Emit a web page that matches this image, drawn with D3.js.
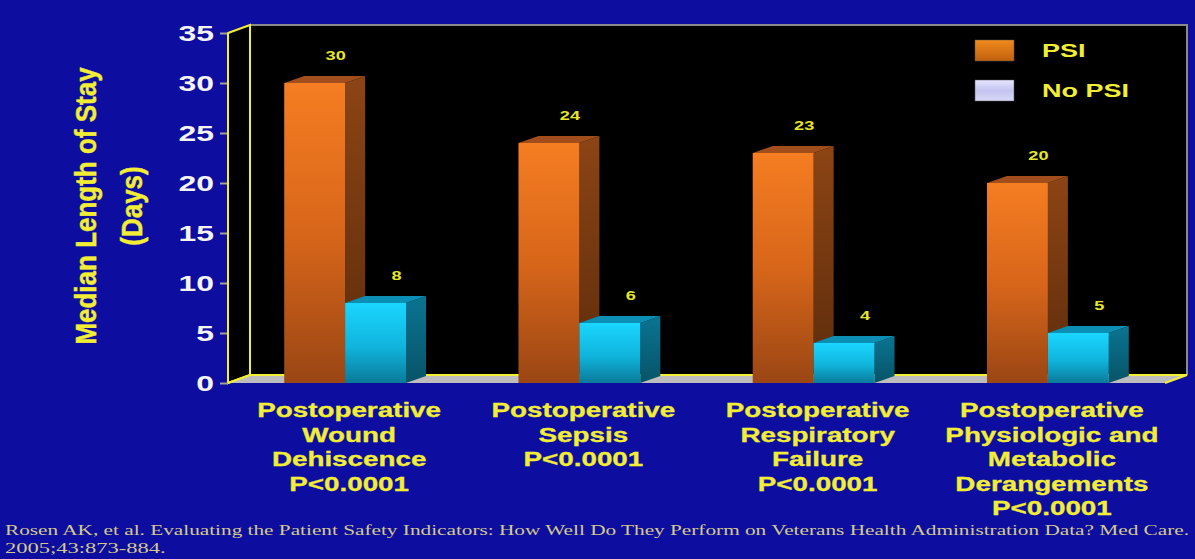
<!DOCTYPE html>
<html>
<head>
<meta charset="utf-8">
<script src="https://cdn.jsdelivr.net/npm/d3@7"></script>
<style>
  html, body { margin: 0; padding: 0; background: #0d0da0; }
  svg { display: block; }
</style>
</head>
<body>
<svg id="chart" width="1195" height="559"></svg>
<script>
// ---- data ----
const categoryKeys = ["wound", "sepsis", "respiratory", "metabolic"];
const categoryLines = [
  ["Postoperative", "Wound", "Dehiscence", "P<0.0001"],
  ["Postoperative", "Sepsis", "P<0.0001"],
  ["Postoperative", "Respiratory", "Failure", "P<0.0001"],
  ["Postoperative", "Physiologic and", "Metabolic", "Derangements", "P<0.0001"]
];
const seriesNames = ["PSI", "No PSI"];
const psiValues = [30, 24, 23, 20];
const noPsiValues = [8, 6, 4, 5];
const yTicks = [0, 5, 10, 15, 20, 25, 30, 35];
const yTitleLines = ["Median Length of Stay", "(Days)"];
const citationLines = [
  "Rosen AK, et al. Evaluating the Patient Safety Indicators: How Well Do They Perform on Veterans Health Administration Data? Med Care.",
  "2005;43:873-884."
];

// ---- layout ----
const svg = d3.select("#chart");
const W = 1195, H = 559;
const floorY = 383, topY = 33;
const plotLeft = 228, plotRight = 1165;
const wallDX = 22, wallDY = -8;     // depth of the walls
const barDX = 20, barDY = -7;       // depth of each bar
const yellow = "#f2ee34";
const sans = "'Liberation Sans', Arial, sans-serif";

const y = d3.scaleLinear().domain([0, 35]).range([floorY, topY]);
const x = d3.scaleBand().domain(categoryKeys).range([plotLeft, plotRight])
  .paddingInner(0.48).paddingOuter(0.24);
const xs = d3.scaleBand().domain(seriesNames).range([0, x.bandwidth()]);

const defs = svg.append("defs");
function vGrad(id, stops) {
  const g = defs.append("linearGradient").attr("id", id)
    .attr("x1", 0).attr("y1", 0).attr("x2", 0).attr("y2", 1);
  stops.forEach(([o, c]) => g.append("stop").attr("offset", o).attr("stop-color", c));
}
vGrad("psiFront", [[0, "#f57d22"], [0.5, "#d8661a"], [1, "#9a4614"]]);
vGrad("psiSide", [[0, "#8c4414"], [1, "#5c2c0c"]]);
vGrad("noFront", [[0, "#1ad6ff"], [0.55, "#10b4dc"], [1, "#0a7a9a"]]);
vGrad("noSide", [[0, "#0a7492"], [1, "#075468"]]);
vGrad("legPsi", [[0, "#f08a1c"], [1, "#c0600e"]]);
vGrad("legNo", [[0, "#e6e6ff"], [0.5, "#c4c4f0"], [1, "#d8d8f8"]]);

// background
svg.append("rect").attr("width", W).attr("height", H).attr("fill", "#0d0da0");

// back wall
const backL = plotLeft + wallDX, backR = plotRight + wallDX;
svg.append("rect")
  .attr("x", backL).attr("y", topY + wallDY)
  .attr("width", backR - backL).attr("height", floorY - topY)
  .attr("fill", "#000");
svg.append("path")
  .attr("d", `M${backL},${topY + wallDY}H${backR}V${floorY + wallDY}`)
  .attr("fill", "none").attr("stroke", "#8a8a8a").attr("stroke-width", 2);
svg.append("line")
  .attr("x1", backL).attr("x2", backL).attr("y1", topY + wallDY).attr("y2", floorY + wallDY)
  .attr("stroke", yellow).attr("stroke-width", 2);

// left wall
svg.append("path")
  .attr("d", `M${plotLeft},${floorY}L${backL},${floorY + wallDY}L${backL},${topY + wallDY}L${plotLeft},${topY}Z`)
  .attr("fill", "#000").attr("stroke", yellow).attr("stroke-width", 2);

// floor
svg.append("path")
  .attr("d", `M${plotLeft},${floorY}L${plotRight},${floorY}L${backR},${floorY + wallDY}L${backL},${floorY + wallDY}Z`)
  .attr("fill", "#bdbdbd");
svg.append("path")
  .attr("d", `M${plotLeft},${floorY}L${backL},${floorY + wallDY}H${backR}L${plotRight},${floorY}`)
  .attr("fill", "none").attr("stroke", yellow).attr("stroke-width", 2);

// y axis
const axis = svg.append("g").attr("transform", `translate(${plotLeft},0)`)
  .call(d3.axisLeft(y).tickValues(yTicks).tickSize(8).tickPadding(0));
axis.select(".domain").remove();
axis.selectAll(".tick line").attr("stroke", "#a0a0a0").attr("stroke-width", 2);
axis.selectAll(".tick text")
  .attr("x", -14 / 1.45).attr("dy", "0.36em")
  .attr("transform", "scale(1.45,1)")
  .attr("fill", "#f4f4f4")
  .style("font-family", sans)
  .style("font-weight", "bold").style("font-size", "22px");
svg.append("line")
  .attr("x1", plotLeft).attr("x2", plotLeft).attr("y1", topY).attr("y2", floorY)
  .attr("stroke", yellow).attr("stroke-width", 2);

// y axis title (two rotated lines)
const titleBaseX = [96, 142];
yTitleLines.forEach((t, i) => {
  svg.append("text")
    .attr("transform", `translate(${titleBaseX[i]},206) rotate(-90) scale(1,1.12)`)
    .attr("text-anchor", "middle")
    .attr("fill", yellow)
    .attr("stroke", yellow).attr("stroke-width", 0.4)
    .style("font-family", sans)
    .style("font-weight", "bold").style("font-size", "26px")
    .text(t);
});

// 3D bars
const rows = categoryKeys.map((k, i) => ({ key: k, values: [psiValues[i], noPsiValues[i]] }));
const faces = [
  { front: "url(#psiFront)", side: "url(#psiSide)", top: "#a24e1c" },
  { front: "url(#noFront)", side: "url(#noSide)", top: "#0b8fb4" }
];
const bars = svg.append("g");
rows.forEach(r => {
  r.values.forEach((v, si) => {
    const x0 = x(r.key) + xs(seriesNames[si]);
    const x1 = x0 + xs.bandwidth();
    const yt = y(v), yb = y(0);
    const f = faces[si];
    const g = bars.append("g");
    g.append("path")
      .attr("d", `M${x1},${yb}L${x1 + barDX},${yb + barDY}L${x1 + barDX},${yt + barDY}L${x1},${yt}Z`)
      .attr("fill", f.side);
    g.append("path")
      .attr("d", `M${x0},${yt}L${x0 + barDX},${yt + barDY}L${x1 + barDX},${yt + barDY}L${x1},${yt}Z`)
      .attr("fill", f.top);
    g.append("rect")
      .attr("x", x0).attr("y", yt).attr("width", x1 - x0).attr("height", yb - yt)
      .attr("fill", f.front);
    // value label
    g.append("text")
      .attr("transform", `translate(${(x0 + x1) / 2 + 21},${yt - 23.5}) scale(1.4,1)`)
      .attr("text-anchor", "middle")
      .attr("fill", "#e6e62a")
      .style("font-family", sans)
      .style("font-weight", "bold").style("font-size", "13px")
      .text(v);
  });
});

// category labels
rows.forEach((r, i) => {
  const cx = x(r.key) + x.bandwidth() / 2 + 4;
  categoryLines[i].forEach((line, li) => {
    svg.append("text")
      .attr("transform", `translate(${cx},${417 + li * 24.5}) scale(1.39,1)`)
      .attr("text-anchor", "middle")
      .attr("fill", yellow)
      .attr("stroke", yellow).attr("stroke-width", 0.3)
      .style("font-family", sans)
      .style("font-weight", "bold").style("font-size", "20px")
      .text(line);
  });
});

// legend
const legend = svg.append("g");
const legendFill = ["url(#legPsi)", "url(#legNo)"];
seriesNames.forEach((name, i) => {
  const ly = 40 + i * 40;
  legend.append("rect")
    .attr("x", 975).attr("y", ly).attr("width", 39).attr("height", 21)
    .attr("fill", legendFill[i]).attr("stroke", "#555").attr("stroke-width", 0.5);
  legend.append("text")
    .attr("transform", `translate(1042,${ly + 16.5}) scale(1.5,1)`)
    .attr("fill", yellow)
    .style("font-family", sans)
    .style("font-weight", "bold").style("font-size", "18px")
    .text(name);
});

// citation
const serif = "'Liberation Serif', 'Times New Roman', serif";
svg.append("text")
  .attr("x", 5).attr("y", 535)
  .attr("textLength", 1184).attr("lengthAdjust", "spacingAndGlyphs")
  .attr("fill", "#d2ca8a")
  .style("font-family", serif)
  .style("font-size", "15px")
  .text(citationLines[0]);
svg.append("text")
  .attr("transform", "translate(5,553) scale(1.5,1)")
  .attr("fill", "#d2ca8a")
  .style("font-family", serif)
  .style("font-size", "15px")
  .text(citationLines[1]);
</script>
</body>
</html>
